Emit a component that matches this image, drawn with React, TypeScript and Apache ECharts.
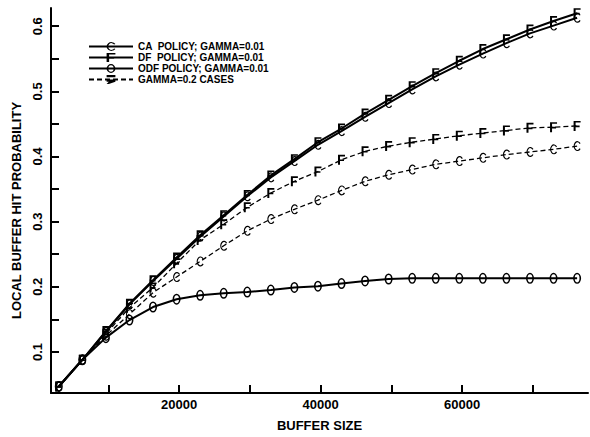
import { useEffect, useRef } from 'react';
import * as echarts from 'echarts';

const bufferSizes = [3000, 6330, 9660, 12990, 16320, 19650, 22980, 26310, 29640, 32970, 36300, 39630, 42960, 46290, 49620, 52950, 56280, 59610, 62940, 66270, 69600, 72930, 76260];
const caGamma001 = [0.047, 0.088, 0.131, 0.173, 0.209, 0.243, 0.277, 0.308, 0.339, 0.368, 0.393, 0.418, 0.439, 0.461, 0.482, 0.503, 0.523, 0.541, 0.558, 0.574, 0.589, 0.601, 0.613];
const dfGamma001 = [0.047, 0.088, 0.132, 0.174, 0.210, 0.245, 0.279, 0.310, 0.341, 0.371, 0.396, 0.422, 0.443, 0.466, 0.487, 0.508, 0.528, 0.547, 0.565, 0.580, 0.595, 0.608, 0.620];
const odfGamma001 = [0.047, 0.088, 0.122, 0.149, 0.169, 0.181, 0.187, 0.190, 0.192, 0.195, 0.199, 0.201, 0.205, 0.209, 0.212, 0.213, 0.213, 0.213, 0.213, 0.213, 0.213, 0.213, 0.213];
const dfGamma02 = [0.047, 0.088, 0.128, 0.168, 0.199, 0.236, 0.272, 0.296, 0.322, 0.344, 0.362, 0.377, 0.395, 0.408, 0.416, 0.422, 0.427, 0.432, 0.436, 0.440, 0.444, 0.445, 0.447];
const caGamma02 = [0.047, 0.088, 0.125, 0.158, 0.191, 0.215, 0.239, 0.263, 0.286, 0.304, 0.319, 0.333, 0.348, 0.362, 0.372, 0.380, 0.388, 0.393, 0.398, 0.403, 0.407, 0.411, 0.416];

const xTickValues = [10000, 20000, 30000, 40000, 50000, 60000, 70000];
const xLabelValues = [20000, 40000, 60000];
const yTickValues = [0.1, 0.15, 0.2, 0.25, 0.3, 0.35, 0.4, 0.45, 0.5, 0.55, 0.6];
const yLabelValues = [0.1, 0.2, 0.3, 0.4, 0.5, 0.6];

const legendNames = ['CA  POLICY; GAMMA=0.01', 'DF  POLICY; GAMMA=0.01', 'ODF POLICY; GAMMA=0.01', 'GAMMA=0.2 CASES'];

const SYM_F = 'path://M0,0H7V1.8H2V5.1H6V6.9H2V11H0Z';
const SYM_C = 'path://M8.69,3.27A4.5,6.5 0 1,0 8.69,10.73L7.46,9.87A3,5 0 1,1 7.46,4.13Z';
const SYM_O = 'path://M0,6A4,6 0 1,1 8,6A4,6 0 1,1 0,6ZM1.6,6A2.4,4.4 0 1,0 6.4,6A2.4,4.4 0 1,0 1.6,6Z';
const SYM_SEMI = 'path://M1,0H3V2H1ZM1,4H3V6L1.5,8H1L1.5,6H1Z';

const AXIS_FONT = "'Liberation Sans', Arial, sans-serif";
const LEGEND_FONT = "'Liberation Sans', Arial, sans-serif";

function pairs(ys: number[]) {
  return bufferSizes.map((x, i) => [x, ys[i]]);
}

export default function App() {
  const ref = useRef<HTMLDivElement>(null);
  useEffect(() => {
    document.body.style.margin = '0';
    const chart = echarts.init(ref.current!, undefined, { renderer: 'svg' });
    const black = '#000';
    const dashed = { color: black, width: 1.3, type: [5, 3] as any };
    const solid = { color: black, width: 2 };
    chart.setOption({
      animation: false,
      backgroundColor: '#fff',
      grid: { left: 51, right: 2, top: 8, bottom: 43, containLabel: false },
      legend: {
        data: legendNames,
        orient: 'vertical',
        left: 88,
        top: 41,
        padding: 0,
        itemWidth: 44,
        itemHeight: 11,
        itemGap: 0,
        selectedMode: false,
        textStyle: { fontFamily: LEGEND_FONT, fontWeight: 'bold', fontSize: 10, lineHeight: 11, color: black },
      },
      xAxis: {
        type: 'value',
        min: 1900,
        max: 77800,
        name: 'BUFFER SIZE',
        nameLocation: 'middle',
        nameGap: 26,
        nameTextStyle: { fontFamily: AXIS_FONT, fontWeight: 'bold', fontSize: 13, color: black },
        axisLine: { show: true, lineStyle: { color: black, width: 2 } },
        axisTick: { show: true, inside: true, length: 8, lineStyle: { color: black, width: 2 }, customValues: xTickValues },
        axisLabel: {
          show: true,
          customValues: xLabelValues,
          margin: 5,
          formatter: (v: number) => String(v),
          fontFamily: AXIS_FONT,
          fontWeight: 'bold',
          fontSize: 13,
          color: black,
        },
        splitLine: { show: false },
      },
      yAxis: {
        type: 'value',
        min: 0.037,
        max: 0.628,
        name: 'LOCAL BUFFER HIT PROBABILITY',
        nameLocation: 'middle',
        nameGap: 19,
        nameRotate: 90,
        nameTextStyle: { fontFamily: AXIS_FONT, fontWeight: 'bold', fontSize: 13, color: black, padding: [0, 20, 0, 0] },
        axisLine: { show: true, lineStyle: { color: black, width: 2 } },
        axisTick: { show: true, inside: true, length: 8, lineStyle: { color: black, width: 2 }, customValues: yTickValues },
        axisLabel: {
          show: true,
          customValues: yLabelValues,
          rotate: 90,
          margin: 7,
          formatter: (v: number) => v.toFixed(1),
          fontFamily: AXIS_FONT,
          fontWeight: 'bold',
          fontSize: 13,
          color: black,
        },
        splitLine: { show: false },
      },
      series: [
        {
          name: 'CA POLICY; GAMMA=0.2',
          type: 'line',
          data: pairs(caGamma02),
          lineStyle: dashed,
          itemStyle: { color: black },
          symbol: SYM_C,
          symbolSize: [7, 10],
        },
        {
          name: 'DF POLICY; GAMMA=0.2',
          type: 'line',
          data: pairs(dfGamma02),
          lineStyle: dashed,
          itemStyle: { color: black },
          symbol: SYM_F,
          symbolSize: [7, 10],
        },
        {
          name: legendNames[2],
          type: 'line',
          data: pairs(odfGamma001),
          lineStyle: solid,
          itemStyle: { color: black },
          symbol: SYM_O,
          symbolSize: [8, 11],
        },
        {
          name: legendNames[0],
          type: 'line',
          data: pairs(caGamma001),
          lineStyle: solid,
          itemStyle: { color: black },
          symbol: SYM_C,
          symbolSize: [7, 10],
        },
        {
          name: legendNames[1],
          type: 'line',
          data: pairs(dfGamma001),
          lineStyle: solid,
          itemStyle: { color: black },
          symbol: SYM_F,
          symbolSize: [7, 10],
        },
        {
          name: legendNames[3],
          type: 'line',
          data: [],
          lineStyle: dashed,
          itemStyle: { color: black },
          symbol: SYM_SEMI,
          symbolSize: [3, 7],
        },
      ],
    });
    return () => chart.dispose();
  }, []);
  return <div ref={ref} style={{ width: 590, height: 437 }} />;
}
